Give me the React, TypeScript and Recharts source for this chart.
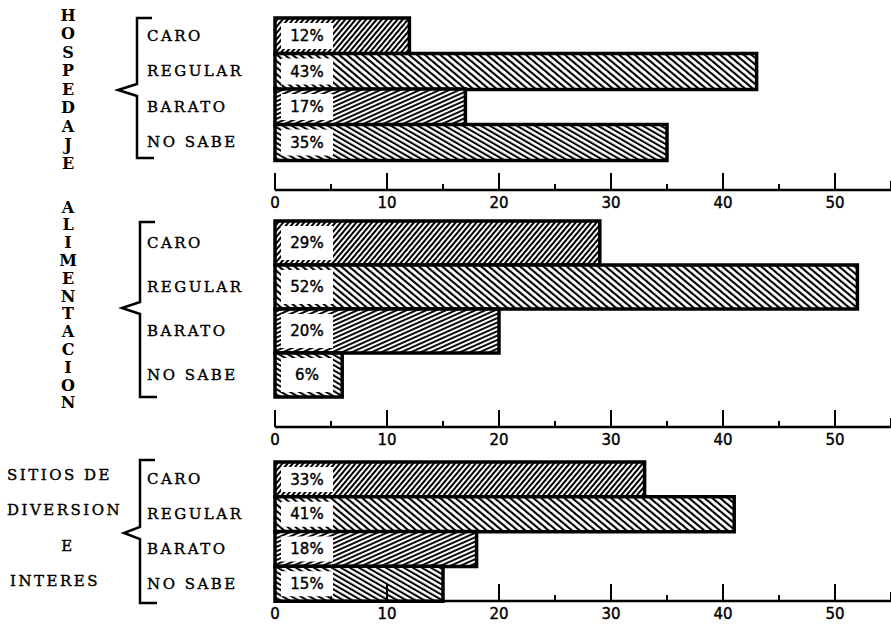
import React from "react";
import { BarChart, Bar, XAxis, YAxis, Cell, LabelList } from "recharts";

const categories = ["CARO", "REGULAR", "BARATO", "NO SABE"];
const hospedaje = [12, 43, 17, 35];
const alimentacion = [29, 52, 20, 6];
const sitios = [33, 41, 18, 15];
const axisTicks = [0, 5, 10, 15, 20, 25, 30, 35, 40, 45, 50, 55];
const labelTicks = [0, 10, 20, 30, 40, 50];

const groupHosp = "HOSPEDAJE";
const groupAlim = "ALIMENTACION";
const groupSitios = ["SITIOS DE", "DIVERSION", "E", "INTERES"];

const patternIds = ["hCaro", "hRegular", "hBarato", "hNoSabe"];

const serif = "'DejaVu Serif', serif";
const sans = "'DejaVu Sans', sans-serif";

function AxisTick(props: any) {
  const { x, y, payload } = props;
  const v = payload.value;
  const len = v % 10 === 0 ? 17 : v === 55 ? 9 : 6;
  return (
    <g>
      <line x1={x} y1={y} x2={x} y2={y - len} stroke="#000" strokeWidth={2} />
      {labelTicks.includes(v) && (
        <text x={x} y={y + 13} textAnchor="middle" dominantBaseline="central" fontFamily={sans} fontSize={15} fill="#000" stroke="#000" strokeWidth={0.4}>
          {v}
        </text>
      )}
    </g>
  );
}

function CatTick(props: any) {
  const { y, payload } = props;
  return (
    <text x={147} y={y} dominantBaseline="central" fontFamily={serif} fontSize={15} letterSpacing={2.5} fill="#000" stroke="#000" strokeWidth={0.4}>
      {payload.value}
    </text>
  );
}

function PctLabel(props: any) {
  const { x, y, width, height, value } = props;
  const bw = Math.min(52, width - 14);
  const bx = x + 6;
  return (
    <g>
      <rect x={bx} y={y + 5} width={bw} height={height - 10} fill="#fff" />
      <text x={bx + bw / 2} y={y + height / 2} textAnchor="middle" dominantBaseline="central" fontFamily={sans} fontSize={15} fill="#000" stroke="#000" strokeWidth={0.4}>
        {value + "%"}
      </text>
    </g>
  );
}

function Panel(props: { values: number[]; top: number; height: number; marginTop: number; padBottom: number }) {
  const data = categories.map((name, i) => ({ name, value: props.values[i] }));
  return (
    <div style={{ position: "absolute", left: 0, top: props.top }}>
      <BarChart
        width={891}
        height={props.height}
        data={data}
        layout="vertical"
        barCategoryGap={0}
        margin={{ top: props.marginTop, right: 0, bottom: 0, left: 0 }}
      >
        <XAxis
          type="number"
          domain={[0, 55]}
          ticks={axisTicks}
          interval={0}
          height={25}
          tickSize={0}
          tickMargin={0}
          tickLine={false}
          axisLine={{ stroke: "#000", strokeWidth: 2.5 }}
          tick={<AxisTick />}
        />
        <YAxis
          type="category"
          dataKey="name"
          width={275}
          interval={0}
          axisLine={false}
          tickLine={false}
          padding={{ top: 0, bottom: props.padBottom }}
          tick={<CatTick />}
        />
        <Bar dataKey="value" stroke="#000" strokeWidth={3.5} isAnimationActive={false}>
          {data.map((d, i) => (
            <Cell key={d.name} fill={`url(#${patternIds[i]})`} />
          ))}
          <LabelList dataKey="value" content={<PctLabel />} />
        </Bar>
      </BarChart>
    </div>
  );
}

function bracket(x: number, y1: number, y2: number, tipX: number, tipY: number) {
  return `M ${x + 15} ${y1} L ${x} ${y1} L ${x} ${tipY - 6} L ${tipX} ${tipY} L ${x} ${tipY + 6} L ${x} ${y2} L ${x + 17} ${y2}`;
}

export default function App() {
  return (
    <div style={{ position: "absolute", left: 0, top: 0, width: 891, height: 626, background: "#fff", overflow: "hidden" }}>
      <svg width={0} height={0} style={{ position: "absolute" }}>
        <defs>
          <pattern id="hCaro" width={4} height={4} patternUnits="userSpaceOnUse" patternTransform="rotate(40)">
            <rect width={4} height={4} fill="#fff" />
            <line x1={1} y1={0} x2={1} y2={4} stroke="#000" strokeWidth={2.1} />
          </pattern>
          <pattern id="hRegular" width={5} height={5} patternUnits="userSpaceOnUse" patternTransform="rotate(-50)">
            <rect width={5} height={5} fill="#fff" />
            <line x1={1} y1={0} x2={1} y2={5} stroke="#000" strokeWidth={2.2} />
          </pattern>
          <pattern id="hBarato" width={4} height={4} patternUnits="userSpaceOnUse" patternTransform="rotate(66)">
            <rect width={4} height={4} fill="#fff" />
            <line x1={1} y1={0} x2={1} y2={4} stroke="#000" strokeWidth={1.9} />
          </pattern>
          <pattern id="hNoSabe" width={4.5} height={4.5} patternUnits="userSpaceOnUse" patternTransform="rotate(-60)">
            <rect width={4.5} height={4.5} fill="#fff" />
            <line x1={1} y1={0} x2={1} y2={4.5} stroke="#000" strokeWidth={2} />
          </pattern>
        </defs>
      </svg>

      <Panel values={hospedaje} top={0} height={215} marginTop={18} padBottom={30} />
      <Panel values={alimentacion} top={210} height={242} marginTop={11} padBottom={30} />
      <Panel values={sitios} top={450} height={176} marginTop={12} padBottom={0} />

      <svg width={891} height={626} style={{ position: "absolute", left: 0, top: 0, pointerEvents: "none" }}>
        <g fill="none" stroke="#000" strokeWidth={2.5}>
          <path d={bracket(137, 18, 158, 118, 90)} />
          <path d={bracket(140, 222, 397, 122, 308)} />
          <path d={bracket(140, 460, 603, 124, 533)} />
        </g>
        <g fontFamily={serif} fontSize={16} fontWeight="bold" fill="#000" textAnchor="middle">
          {groupHosp.split("").map((ch, i) => (
            <text key={"h" + i} x={68} y={15 + i * 18.5} dominantBaseline="central">
              {ch}
            </text>
          ))}
          {groupAlim.split("").map((ch, i) => (
            <text key={"a" + i} x={68} y={207 + i * 17.8} dominantBaseline="central">
              {ch}
            </text>
          ))}
        </g>
        <g fontFamily={serif} fontSize={15} letterSpacing={2.5} fill="#000" stroke="#000" strokeWidth={0.4}>
          <text x={7} y={475} dominantBaseline="central">{groupSitios[0]}</text>
          <text x={7} y={510} dominantBaseline="central">{groupSitios[1]}</text>
          <text x={68} y={546} textAnchor="middle" dominantBaseline="central">{groupSitios[2]}</text>
          <text x={10} y={581} dominantBaseline="central">{groupSitios[3]}</text>
        </g>
      </svg>
    </div>
  );
}
